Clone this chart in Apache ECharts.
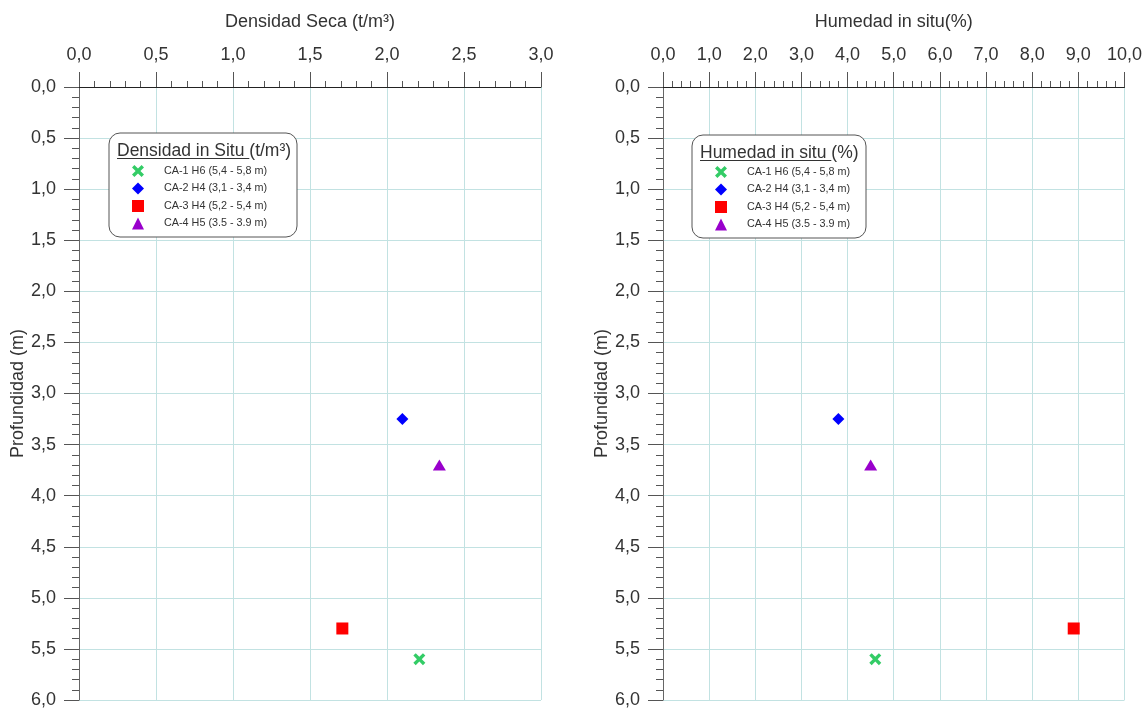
<!DOCTYPE html>
<html>
<head>
<meta charset="utf-8">
<script src="https://cdn.jsdelivr.net/npm/echarts@6/dist/echarts.min.js"></script>
<style>
html,body{margin:0;padding:0;background:#fff;}
#chart{width:1145px;height:709px;}
</style>
</head>
<body>
<div id="chart"></div>
<script>
// ---- data ----
const sampleNames = ['CA-1 H6 (5,4 - 5,8 m)', 'CA-2 H4 (3,1 - 3,4 m)', 'CA-3 H4 (5,2 - 5,4 m)', 'CA-4 H5 (3.5 - 3.9 m)'];
const depth = [5.6, 3.25, 5.3, 3.7];
const densidad = [2.21, 2.10, 1.71, 2.34];
const humedad = [4.6, 3.8, 8.9, 4.5];
const densTicks = {min: 0, max: 3, interval: 0.5};
const humTicks = {min: 0, max: 10, interval: 1};
const depthTicks = {min: 0, max: 6, interval: 0.5};

// ---- styles ----
const FONT = 'Liberation Sans, Arial, sans-serif';
const crossPath = 'path://M0,4 L4,0 L10,6 L16,0 L20,4 L14,10 L20,16 L16,20 L10,14 L4,20 L0,16 L6,10 Z';
const symbols = [crossPath, 'diamond', 'rect', 'triangle'];
const symbolSizes = [12, 12, 12, [13, 11]];
const colors = ['#33cc66', '#0000ff', '#ff0000', '#9900cc'];
const gridColor = '#c2e2e2';
const FS = 18;

const fmt = v => v.toFixed(1).replace('.', ',');

function xAxisOpt(gridIndex, t, name) {
  return {
    type: 'value', gridIndex, position: 'top', min: t.min, max: t.max, interval: t.interval,
    name, nameLocation: 'middle', nameGap: 56,
    nameTextStyle: {fontFamily: FONT, fontSize: FS, color: '#333'},
    axisLine: {show: true, onZero: false, lineStyle: {color: '#222', width: 1}},
    axisTick: {show: true, length: 15, lineStyle: {color: '#555'}},
    minorTick: {show: true, splitNumber: 5, length: 6, lineStyle: {color: '#555'}},
    axisLabel: {formatter: fmt, fontFamily: FONT, fontSize: FS, color: '#333', margin: 23},
    splitLine: {show: true, lineStyle: {color: gridColor, width: 1}}
  };
}
function yAxisOpt(gridIndex, t) {
  return {
    type: 'value', gridIndex, inverse: true, min: t.min, max: t.max, interval: t.interval,
    name: 'Profundidad (m)', nameLocation: 'middle', nameGap: 52,
    nameTextStyle: {fontFamily: FONT, fontSize: FS, color: '#333'},
    axisLine: {show: true, onZero: false, lineStyle: {color: '#666', width: 1}},
    axisTick: {show: true, length: 15, lineStyle: {color: '#555'}},
    minorTick: {show: true, splitNumber: 5, length: 7, lineStyle: {color: '#555'}},
    axisLabel: {formatter: fmt, fontFamily: FONT, fontSize: FS, color: '#333', margin: 23},
    splitLine: {show: true, lineStyle: {color: gridColor, width: 1}}
  };
}

const series = [];
sampleNames.forEach((n, i) => {
  const common = {
    type: 'scatter', name: n, symbol: symbols[i], symbolSize: symbolSizes[i],
    itemStyle: {color: colors[i], opacity: 1}, z: 5
  };
  series.push(Object.assign({}, common, {xAxisIndex: 0, yAxisIndex: 0, data: [[densidad[i], depth[i]]]}));
  series.push(Object.assign({}, common, {xAxisIndex: 1, yAxisIndex: 1, data: [[humedad[i], depth[i]]]}));
});

function legendOpt(left, top) {
  return {
    data: sampleNames, orient: 'vertical', left, top, padding: 0,
    itemWidth: 12, itemHeight: 12, itemGap: 5.5, z: 10,
    selectedMode: false,
    textStyle: {fontFamily: FONT, fontSize: 10.8, color: '#333', padding: [0, 0, 0, 15]}
  };
}

const TFS = 17.5;
const ctx = document.createElement('canvas').getContext('2d');
ctx.font = TFS + 'px ' + FONT;
function legendBox(x, y, w, h, titleMain, titleRest) {
  const mainW = ctx.measureText(titleMain + ' ').width;
  return [
    {type: 'rect', z: 8, shape: {x, y, width: w, height: h, r: 11},
     style: {fill: '#fff', stroke: '#555', lineWidth: 1}},
    {type: 'text', z: 9, x: x + 8, y: y + 18,
     style: {text: titleMain + ' ' + titleRest, font: TFS + 'px ' + FONT, fill: '#333', verticalAlign: 'middle'}},
    {type: 'line', z: 9, shape: {x1: x + 8, y1: y + 25.5, x2: x + 8 + mainW, y2: y + 25.5},
     style: {stroke: '#333', lineWidth: 1}}
  ];
}

const option = {
  backgroundColor: '#fff',
  animation: false,
  grid: [
    {left: 79, right: 604, top: 87, bottom: 6, containLabel: false},
    {left: 663, right: 19, top: 87, bottom: 6, containLabel: false}
  ],
  xAxis: [xAxisOpt(0, densTicks, 'Densidad Seca (t/m³)'), xAxisOpt(1, humTicks, 'Humedad in situ(%)')],
  yAxis: [yAxisOpt(0, depthTicks), yAxisOpt(1, depthTicks)],
  legend: [legendOpt(132, 165), legendOpt(715, 166)],
  graphic: [].concat(
    legendBox(109, 133, 188, 104, 'Densidad in Situ', '(t/m³)'),
    legendBox(692, 135, 174, 103, 'Humedad in situ', '(%)')
  ),
  series
};

const chart = echarts.init(document.getElementById('chart'), null, {renderer: 'canvas'});
chart.setOption(option);
</script>
</body>
</html>
